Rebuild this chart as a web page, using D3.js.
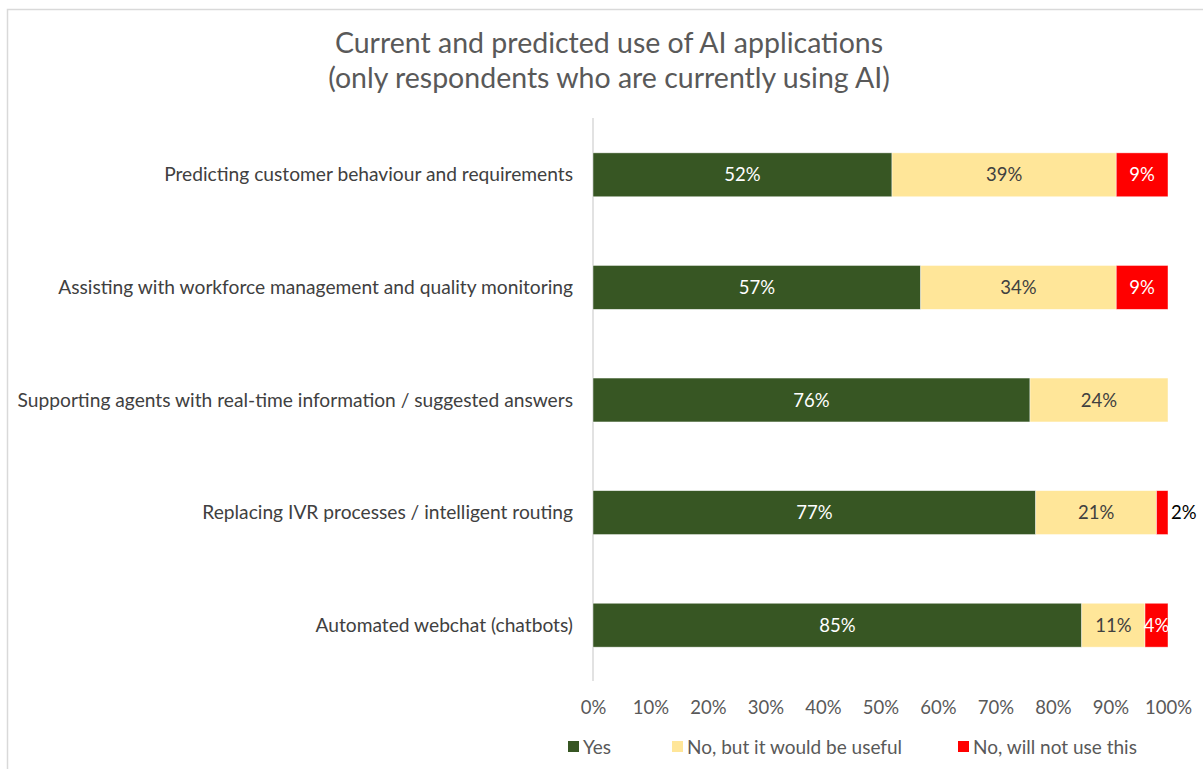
<!DOCTYPE html>
<html>
<head>
<meta charset="utf-8">
<script src="https://cdn.jsdelivr.net/npm/d3@7"></script>
<style>
  body { margin: 0; background: #fff; }
  svg { display: block; font-family: Lato, "Open Sans", sans-serif; }
</style>
</head>
<body>
<div id="chart"></div>
<script>
// data
const categories = [
    "Predicting customer behaviour and requirements",
    "Assisting with workforce management and quality monitoring",
    "Supporting agents with real-time information / suggested answers",
    "Replacing IVR processes / intelligent routing",
    "Automated webchat (chatbots)"
];
const seriesNames = ["Yes", "No, but it would be useful", "No, will not use this"];
const yesValues = [52, 57, 76, 77, 85];
const usefulValues = [39, 34, 24, 21, 11];
const notUseValues = [9, 9, 0, 2, 4];
const tickValues = [0, 10, 20, 30, 40, 50, 60, 70, 80, 90, 100];
const colors = ["#375623", "#FFE699", "#FF0000"];
const labelColors = ["#ffffff", "#404040", "#ffffff"];

const width = 1203, height = 769;
const svg = d3.select("#chart").append("svg")
    .attr("width", width)
    .attr("height", height);

// outer chart border
svg.append("rect")
    .attr("x", 7.5).attr("y", 9.5)
    .attr("width", 1210).attr("height", 770)
    .attr("fill", "none")
    .attr("stroke", "#d9d9d9")
    .attr("stroke-width", 1.5);

// title
const title = svg.append("text")
    .attr("text-anchor", "middle")
    .attr("fill", "#595959")
    .style("font-size", "28.5px");
title.append("tspan").attr("x", 609).attr("y", 53).text("Current and predicted use of AI applications");
title.append("tspan").attr("x", 609).attr("y", 88).text("(only respondents who are currently using AI)");

const x = d3.scaleLinear().domain([0, 100]).range([593, 1168]);
const y = d3.scaleBand().domain(categories).range([118.5, 681.5]).paddingInner(0.61).paddingOuter(0.305);

const stackData = categories.map((c, i) => ({ cat: c, s0: yesValues[i], s1: usefulValues[i], s2: notUseValues[i] }));
const stack = d3.stack().keys(["s0", "s1", "s2"])(stackData);

// vertical axis line
svg.append("line")
    .attr("x1", x(0)).attr("x2", x(0))
    .attr("y1", 118).attr("y2", 681)
    .attr("stroke", "#d9d9d9").attr("stroke-width", 1.5);

stack.forEach((layer, si) => {
    const g = svg.append("g");
    g.selectAll("rect")
        .data(layer.filter(d => d[1] - d[0] > 0))
        .enter().append("rect")
        .attr("x", d => x(d[0]))
        .attr("y", d => y(d.data.cat))
        .attr("width", d => x(d[1]) - x(d[0]))
        .attr("height", y.bandwidth())
        .attr("fill", colors[si])
        .attr("stroke", "#ffffff")
        .attr("stroke-opacity", 0.6)
        .attr("stroke-width", 0.75);

    g.selectAll("text")
        .data(layer.filter(d => d[1] - d[0] > 0))
        .enter().append("text")
        .attr("x", d => (d[1] - d[0]) < 3 ? x(d[1]) + 3 : x((d[0] + d[1]) / 2))
        .attr("y", d => y(d.data.cat) + y.bandwidth() / 2 + 6.5)
        .attr("text-anchor", d => (d[1] - d[0]) < 3 ? "start" : "middle")
        .attr("fill", d => (d[1] - d[0]) < 3 ? "#000000" : labelColors[si])
        .style("font-size", "18.5px")
        .text(d => (d[1] - d[0]) + "%");
});

// category labels
svg.append("g").selectAll("text")
    .data(categories)
    .enter().append("text")
    .attr("x", 573)
    .attr("y", d => y(d) + y.bandwidth() / 2 + 6.5)
    .attr("text-anchor", "end")
    .attr("fill", "#404040")
    .style("font-size", "19.2px")
    .text(d => d);

// x axis
const xAxis = svg.append("g")
    .attr("transform", "translate(0,692)")
    .call(d3.axisBottom(x).tickValues(tickValues).tickFormat(d => d + "%").tickSize(0));
xAxis.select(".domain").remove();
xAxis.selectAll("text")
    .attr("fill", "#595959")
    .attr("dy", "1.05em")
    .style("font-size", "18.5px")
    .style("font-family", "Lato, 'Open Sans', sans-serif");

// legend
const legendX = [568, 672, 958];
const legend = svg.append("g");
seriesNames.forEach((name, i) => {
    legend.append("rect")
        .attr("x", legendX[i]).attr("y", 741)
        .attr("width", 11).attr("height", 11)
        .attr("fill", colors[i]);
    legend.append("text")
        .attr("x", legendX[i] + 15).attr("y", 754)
        .attr("fill", "#595959")
        .style("font-size", "19px")
        .text(name);
});
</script>
</body>
</html>
